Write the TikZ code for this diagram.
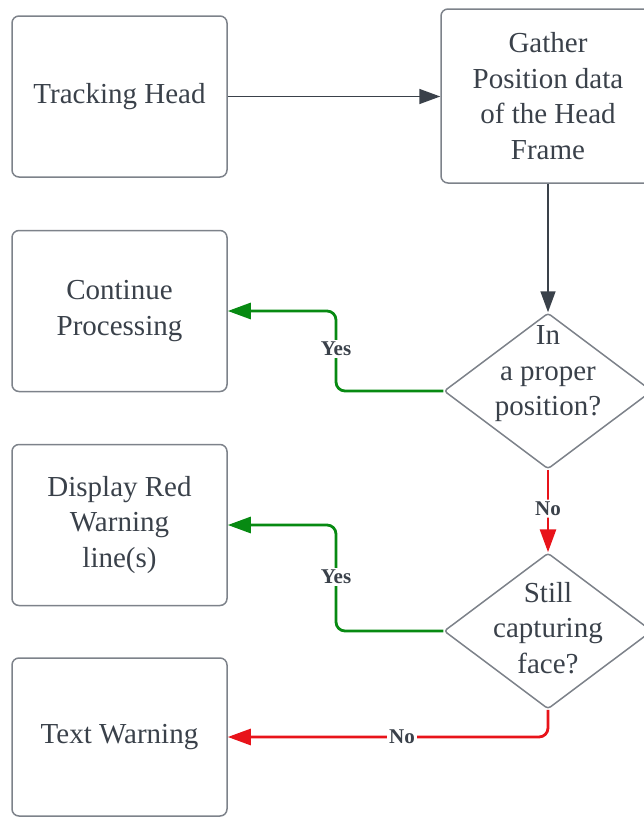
\documentclass[tikz,border=0pt]{standalone}
\usepackage{fontspec}
\setmainfont{Liberation Serif}
\usetikzlibrary{shapes.geometric,arrows.meta}
\definecolor{txt}{HTML}{3A414A}
\definecolor{bord}{HTML}{7D828A}
\definecolor{dark}{HTML}{3A414A}
\definecolor{grn}{HTML}{078A12}
\definecolor{rd}{HTML}{E8131A}
\begin{document}
\begin{tikzpicture}[x=1pt,y=-1pt,
  box/.style={draw=bord, line width=1.5pt, rounded corners=7pt, minimum width=215pt, minimum height=161pt, align=center, text=txt, font=\fontsize{29}{35.5}\selectfont, inner sep=0pt},
  dec/.style={diamond, draw=bord, line width=1.5pt, rounded corners=3pt, minimum width=208pt, minimum height=156pt, inner sep=0pt},
  dtext/.style={align=center, text=txt, font=\fontsize{29}{35.5}\selectfont, inner sep=0pt},
  lab/.style={fill=white, text=txt, font=\fontsize{21}{21}\selectfont\bfseries, inner sep=2pt},
  darr/.style={draw=dark, line width=1.6pt, -{Triangle[length=21pt,width=15pt]}},
  garr/.style={draw=grn, line width=2.8pt, rounded corners=9pt, -{Triangle[length=23pt,width=16pt]}},
  rarr/.style={draw=rd, line width=2.8pt, rounded corners=9pt, -{Triangle[length=23pt,width=16pt]}}]
\useasboundingbox (0,0) rectangle (644,817);
\node[box] (th) at (119.5,96.5) {Tracking Head};
\node[box, minimum width=214pt, minimum height=174pt] (gp) at (548,96) {Gather\\Position data\\of the Head\\Frame};
\node[box] (cp) at (119.5,311) {Continue\\Processing};
\node[box] (dr) at (119.5,525) {Display Red\\Warning\\line(s)};
\node[box, minimum height=158pt] (tw) at (119.5,737) {Text Warning};
\node[dec] (d1) at (548,391) {};
\node[dtext] (d1t) at (548,374) {In\\a proper\\position?};
\node[dec] (d2) at (548,631) {};
\node[dtext] (d2t) at (548,628) {Still\\capturing\\face?};
\coordinate (g1) at (336,311);
\coordinate (g2) at (336,525);
\draw[darr] (th.east) -- (gp.west |- th.east);
\draw[darr] (gp.south -| d1.north) -- (d1.north);
\draw[garr] (d1.west) -| (g1) -- (cp.east);
\node[lab] (y1) at (336,349) {Yes};
\draw[rarr] (d1.south) -- (d2.north) node[lab, pos=0.47] (n1) {No};
\draw[garr] (d2.west) -| (g2) -- (dr.east);
\node[lab] (y2) at (336,577) {Yes};
\draw[rarr] (d2.south) |- (tw.east);
\node[lab] (n2) at (402,737) {No};
\end{tikzpicture}
\end{document}
